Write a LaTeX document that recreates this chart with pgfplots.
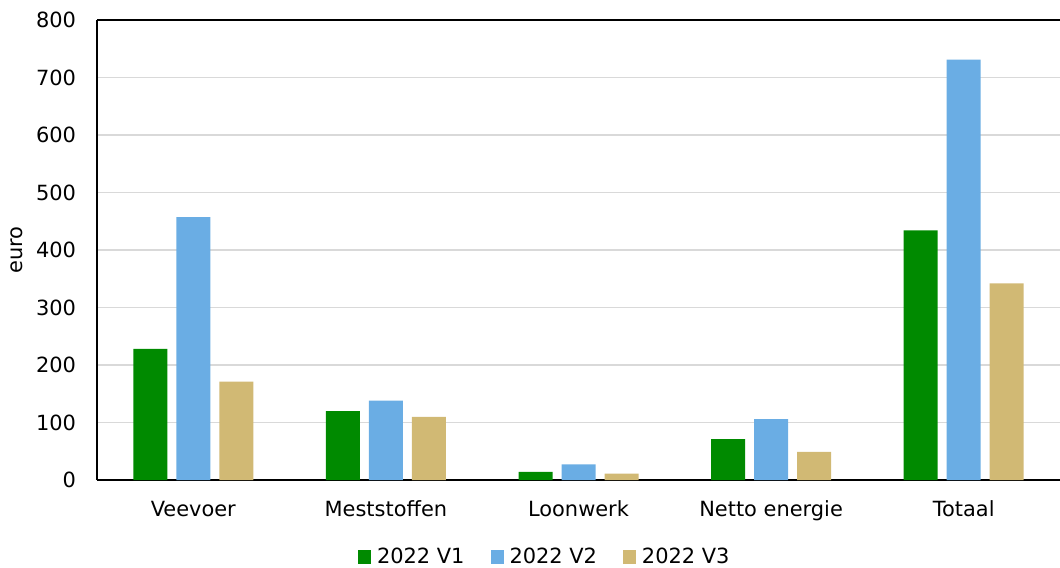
\documentclass[border=0pt]{standalone}
\usepackage{fontspec}
\setmainfont{DejaVu Sans}
\usepackage{pgfplots}
\pgfplotsset{compat=1.18}
\usepackage{pgfplotstable}

\definecolor{vgreen}{HTML}{008A00}
\definecolor{vblue}{HTML}{6AADE4}
\definecolor{vtan}{HTML}{D1B974}
\definecolor{gridgray}{HTML}{D9D9D9}

% kosten per categorie, euro
\pgfplotstableread{
x  v1   v2   v3
0  228  457  171
1  120  138  110
2  14   27   11
3  71   106  49
4  434  731  342
}\kosten

\begin{document}
\begin{tikzpicture}[font=\fontsize{10.5}{12}\selectfont]
\begin{axis}[
    width=481.5bp, height=230bp, scale only axis,
    ybar=4.5bp, bar width=17bp,
    xmin=-0.5, xmax=4.5, ymin=0, ymax=800,
    ytick={0,100,...,800},
    xtick=data,
    xticklabels={Veevoer,Meststoffen,Loonwerk,Netto energie,Totaal},
    axis x line=box, axis y line=left,
    axis line style={-, line width=1bp, black},
    major tick length=0pt,
    ymajorgrids, grid style={gridgray, line width=0.8bp},
    ylabel={euro},
    yticklabel style={xshift=-7bp},
    xticklabel style={yshift=-7bp},
    /pgf/number format/assume math mode=true,
    legend columns=3,
    legend style={draw=none, at={(0.466,-0.1674)}, anchor=center,
        column sep=1bp, /tikz/every even column/.append style={column sep=11bp}},
    legend image code/.code={\fill[#1] (0bp,-3.3bp) rectangle (6.5bp,3.3bp);},
]
\addplot[fill=vgreen, draw=none] table[x=x, y=v1] {\kosten};
\addlegendentry{2022 V1}
\addplot[fill=vblue, draw=none] table[x=x, y=v2] {\kosten};
\addlegendentry{2022 V2}
\addplot[fill=vtan, draw=none] table[x=x, y=v3] {\kosten};
\addlegendentry{2022 V3}
\end{axis}
\pgfresetboundingbox
\path ([xshift=-48.5bp, yshift=10bp]current axis.north west)
    rectangle ([yshift=-43.5bp]current axis.south east);
\end{tikzpicture}
\end{document}
